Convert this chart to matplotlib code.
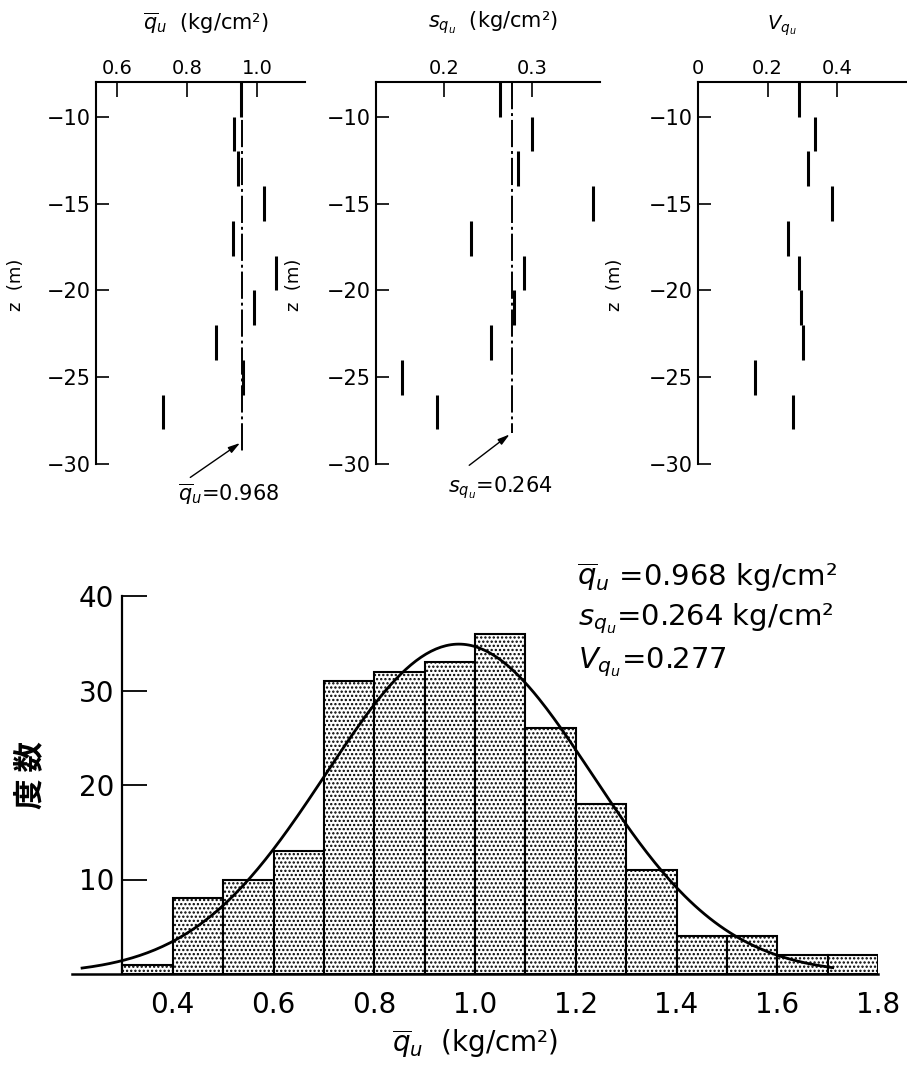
import numpy as np
import matplotlib.pyplot as plt

plt.rcParams['font.family'] = ['DejaVu Sans', 'Noto Sans CJK JP']
plt.rcParams['mathtext.fontset'] = 'dejavusans'
plt.rcParams['hatch.linewidth'] = 1.1

W, H = 907, 1084

# layers, 2 m thick each
z_top = [-8, -10, -12, -14, -16, -18, -20, -22, -24, -26]
z_bot = [-10, -12, -14, -16, -18, -20, -22, -24, -26, -28]
qu_mean = [0.955, 0.935, 0.947, 1.02, 0.93, 1.054, 0.99, 0.883, 0.96, 0.732]
qu_sd = [0.264, 0.30, 0.284, 0.369, 0.231, 0.291, 0.279, 0.253, 0.153, 0.192]
qu_cv = [0.29, 0.336, 0.316, 0.385, 0.259, 0.29, 0.296, 0.30, 0.164, 0.273]

# reference lines as drawn in the panels
ref_mean = 0.958
ref_sd = 0.277

# histogram of qu
bin_left = [0.3, 0.4, 0.5, 0.6, 0.7, 0.8, 0.9, 1.0, 1.1, 1.2, 1.3, 1.4, 1.5, 1.6, 1.7]
counts = [1, 8, 10, 13, 31, 32, 33, 36, 26, 18, 11, 4, 4, 2, 2]
bin_w = 0.1
q_bar = 0.968
s_q = 0.264
v_q = 0.277

fig = plt.figure(figsize=(W / 100, H / 100), dpi=100)


def px_rect(x0, x1, y_top, y_bot):
    return [x0 / W, 1 - y_bot / H, (x1 - x0) / W, (y_bot - y_top) / H]


def depth_panel(rect, vals, xlim, xticks, xlabels, ylab_x):
    ax = fig.add_axes(rect)
    for v, a, b in zip(vals, z_top, z_bot):
        ax.plot([v, v], [a, b], color='black', lw=2.2, solid_capstyle='butt')
    ax.set_xlim(*xlim)
    ax.set_ylim(-30, -8)
    ax.xaxis.tick_top()
    ax.set_xticks(xticks)
    ax.set_xticklabels(xlabels, fontsize=14)
    ax.set_yticks([-10, -15, -20, -25, -30])
    ax.tick_params(axis='x', direction='in', length=11, width=1.2, pad=3)
    ax.tick_params(axis='y', direction='in', length=9.5, width=1.2, pad=4, labelsize=15)
    for s in ['right', 'bottom']:
        ax.spines[s].set_visible(False)
    for s in ['left', 'top']:
        ax.spines[s].set_linewidth(1.5)
    ax.set_ylabel('z  (m)', fontsize=13)
    ax.yaxis.set_label_coords(ylab_x, 0.47)
    return ax


ax1 = depth_panel(px_rect(96, 305, 82, 464), qu_mean, (0.54, 1.137),
                  [0.6, 0.8, 1.0], ['0.6', '0.8', '1.0'], -71 / 209)
ax1.plot([ref_mean, ref_mean], [-8, -29.3], color='black', lw=1.4,
         linestyle=(0, (14, 2, 1.5, 2)))
ax1.annotate('', xy=(ref_mean, -28.7), xytext=(188, H - 479), textcoords='figure pixels',
             arrowprops=dict(arrowstyle='-|>,head_length=0.7,head_width=0.2', lw=1, color='black'))
fig.text(178 / W, 1 - 494 / H, r'$\overline{q}_u$=0.968', fontsize=15, va='center', ha='left')

ax2 = depth_panel(px_rect(376, 600, 82, 464), qu_sd, (0.123, 0.377),
                  [0.2, 0.3], ['0.2', '0.3'], -73 / 224)
ax2.plot([ref_sd, ref_sd], [-8, -28.2], color='black', lw=1.4,
         linestyle=(0, (14, 2, 1.5, 2)))
ax2.annotate('', xy=(ref_sd, -28.2), xytext=(467, H - 467), textcoords='figure pixels',
             arrowprops=dict(arrowstyle='-|>,head_length=0.7,head_width=0.2', lw=1, color='black'))
fig.text(448 / W, 1 - 488 / H, r'$s_{q_u}$=0.264', fontsize=15, va='center', ha='left')

ax3 = depth_panel(px_rect(698, 907, 82, 464), qu_cv, (0.0, 0.60),
                  [0, 0.2, 0.4], ['0', '0.2', '0.4'], -74 / 209)

fig.text(143 / W, 1 - 23 / H, r'$\overline{q}_u$  (kg/cm²)', fontsize=15, va='center', ha='left')
fig.text(428 / W, 1 - 23 / H, r'$s_{q_u}$  (kg/cm²)', fontsize=15, va='center', ha='left')
fig.text(767 / W, 1 - 26 / H, r'$V_{q_u}$', fontsize=14, va='center', ha='left')

# histogram panel
ax = fig.add_axes(px_rect(72, 878, 596, 974))
ax.bar(bin_left, counts, width=bin_w, align='edge', facecolor='white',
       edgecolor='black', linewidth=1.5, hatch='....')
n_total = sum(counts)
xs = np.linspace(0.22, 1.71, 300)
ys = n_total * bin_w / (s_q * np.sqrt(2 * np.pi)) * np.exp(-0.5 * ((xs - q_bar) / s_q) ** 2)
ax.plot(xs, ys, color='black', lw=2.0)
ax.set_xlim(0.2, 1.8)
ax.set_ylim(0, 40)
ax.spines['left'].set_position(('data', 0.3))
for s in ['right', 'top']:
    ax.spines[s].set_visible(False)
ax.spines['left'].set_linewidth(1.6)
ax.spines['bottom'].set_linewidth(1.8)
ax.set_xticks([0.4, 0.6, 0.8, 1.0, 1.2, 1.4, 1.6, 1.8])
ax.set_xticklabels(['0.4', '0.6', '0.8', '1.0', '1.2', '1.4', '1.6', '1.8'])
ax.set_yticks([10, 20, 30, 40])
ax.tick_params(axis='x', length=0, pad=12, labelsize=20)
ax.tick_params(axis='y', direction='in', length=18, width=1.3, pad=6, labelsize=20)
ax.set_xlabel(r'$\overline{q}_u$  (kg/cm²)', fontsize=20, labelpad=6)

fig.text(30 / W, 1 - 775 / H, '度 数', fontsize=22, rotation=90, va='center', ha='center',
         family=['Noto Sans CJK JP', 'DejaVu Sans'], weight='bold')

fig.text(577 / W, 1 - 577 / H, r'$\overline{q}_u$ =0.968 kg/cm²', fontsize=21, va='center', ha='left')
fig.text(578 / W, 1 - 619 / H, r'$s_{q_u}$=0.264 kg/cm²', fontsize=21, va='center', ha='left')
fig.text(578 / W, 1 - 662 / H, r'$V_{q_u}$=0.277', fontsize=21, va='center', ha='left')

fig.savefig('out.png', dpi=100)
